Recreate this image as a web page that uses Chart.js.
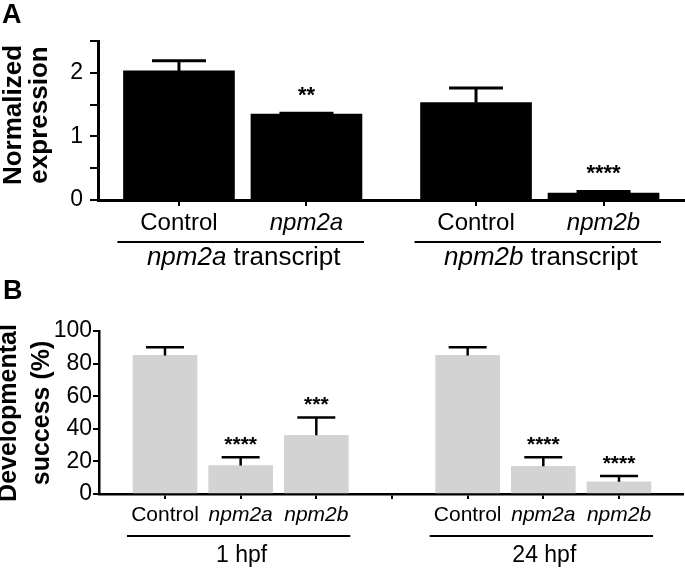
<!DOCTYPE html>
<html>
<head>
<meta charset="utf-8">
<script src="https://cdn.jsdelivr.net/npm/chart.js@4.4.1/dist/chart.umd.min.js"></script>
<style>
  body { margin: 0; background: #fff; }
  canvas { display: block; }
</style>
</head>
<body>
<canvas id="chartA" width="685" height="280"></canvas>
<canvas id="chartB" width="685" height="289"></canvas>
<script>
// A - normalized expression
const exprLabels = ['Control', 'npm2a', 'Control', 'npm2b'];
const exprMean = [2.03, 1.35, 1.53, 0.11];
const exprErr = [0.16, 0.015, 0.23, 0.025];
const exprStars = ['', '**', '', '****'];
const exprGroups = ['npm2a transcript', 'npm2b transcript'];
const exprYTicks = [0, 1, 2];

// B - developmental success (%)
const devLabels = ['Control', 'npm2a', 'npm2b', '', 'Control', 'npm2a', 'npm2b'];
const devMean = [85, 17.5, 36, null, 85, 17, 7.5];
const devErr = [5, 5, 11, null, 5, 5.5, 3.5];
const devStars = ['', '****', '***', '', '', '****', '****'];
const devGroups = ['1 hpf', '24 hpf'];
const devYTicks = [0, 20, 40, 60, 80, 100];

const FONT = 'Arial, "Liberation Sans", Helvetica, sans-serif';
Chart.defaults.font.family = FONT;
Chart.defaults.color = '#000';

const isGene = s => /^npm/.test(s || '');

// error bars, stars, group brackets, axis title, panel letter
function overlay(p, pos) {
    return {
        id: 'overlay',
        afterDatasetsDraw(chart) {
            const ctx = chart.ctx;
            const xs = chart.scales.x, ys = chart.scales.y;
            const meta = chart.getDatasetMeta(0);
            ctx.save();
            ctx.strokeStyle = '#000';
            ctx.fillStyle = '#000';
            ctx.lineWidth = p.errW;
            p.mean.forEach((m, i) => {
                if (m == null) return;
                const x = xs.getPixelForValue(pos[i]);
                const yb = ys.getPixelForValue(m);
                const yt = ys.getPixelForValue(m + p.err[i]);
                ctx.beginPath();
                ctx.moveTo(x, yb);
                ctx.lineTo(x, yt);
                ctx.moveTo(x - p.cap, yt);
                ctx.lineTo(x + p.cap, yt);
                ctx.stroke();
                if (p.stars[i]) {
                    ctx.font = 'bold ' + p.starFont + 'px ' + FONT;
                    ctx.textAlign = 'center';
                    ctx.textBaseline = 'alphabetic';
                    ctx.fillText(p.stars[i], x, yt - p.starGap);
                }
            });

            // group brackets under the tick labels
            ctx.lineWidth = 2;
            p.groups.forEach((g, k) => {
                const [a, b] = p.groupIdx[k];
                const ea = meta.data[a], eb = meta.data[b];
                const x1 = ea.x - ea.width / 2 - 6;
                const x2 = eb.x + eb.width / 2 + 2;
                ctx.beginPath();
                ctx.moveTo(x1, p.lineY);
                ctx.lineTo(x2, p.lineY);
                ctx.stroke();
                // first word italic when it is a gene name
                const sp = g.indexOf(' ');
                const head = isGene(g) ? g.slice(0, sp) : '';
                const tail = isGene(g) ? g.slice(sp) : g;
                const fi = 'italic ' + p.groupFont + 'px ' + FONT;
                const fn = p.groupFont + 'px ' + FONT;
                ctx.font = fi;
                const wh = ctx.measureText(head).width;
                ctx.font = fn;
                const wt = ctx.measureText(tail).width;
                const x = (x1 + x2) / 2 + 3 - (wh + wt) / 2;
                ctx.textAlign = 'left';
                ctx.textBaseline = 'alphabetic';
                ctx.font = fi;
                ctx.fillText(head, x, p.groupY);
                ctx.font = fn;
                ctx.fillText(tail, x + wh, p.groupY);
            });
            ctx.restore();
        },
        afterDraw(chart) {
            const ctx = chart.ctx;
            ctx.save();
            ctx.fillStyle = '#000';
            ctx.font = 'bold ' + p.titleFont + 'px ' + FONT;
            ctx.textAlign = 'center';
            ctx.textBaseline = 'middle';
            p.title.forEach((t, k) => {
                ctx.save();
                ctx.translate(p.titleX[k], p.titleY);
                ctx.rotate(-Math.PI / 2);
                ctx.fillText(t, 0, 0);
                ctx.restore();
            });
            ctx.font = 'bold 27px ' + FONT;
            ctx.textAlign = 'left';
            ctx.textBaseline = 'alphabetic';
            ctx.fillText(p.letter, p.letterX, p.letterY);
            ctx.restore();
        }
    };
}

function makeChart(id, p) {
    const pos = p.labels.map((_, i) => i + 1 + (i >= p.gapAfter ? p.gap : 0));
    return new Chart(document.getElementById(id), {
        type: 'bar',
        data: {
            datasets: [{
                data: p.mean.map((v, i) => ({ x: pos[i], y: v })),
                backgroundColor: p.color,
                borderWidth: 0,
                barThickness: p.barW
            }]
        },
        options: {
            responsive: false,
            animation: false,
            events: [],
            layout: { padding: { top: p.top, left: 0, right: p.right, bottom: 0 } },
            plugins: { legend: { display: false }, tooltip: { enabled: false } },
            scales: {
                x: {
                    type: 'linear',
                    min: p.xMin,
                    max: p.xMax,
                    offset: false,
                    z: 1,
                    afterBuildTicks: s => { s.ticks = pos.map(v => ({ value: v })); },
                    afterFit: s => { s.height = p.xAxisH; },
                    grid: { drawOnChartArea: false, drawTicks: true, tickLength: p.xTick, color: '#000', lineWidth: 2, offset: false },
                    border: { color: '#000', width: p.axisW },
                    ticks: {
                        autoSkip: false,
                        maxRotation: 0,
                        padding: p.xPad,
                        color: '#000',
                        font: c => ({ family: FONT, size: p.xFont, style: isGene(p.labels[c.index]) ? 'italic' : 'normal' }),
                        callback: (v, i) => p.labels[i]
                    }
                },
                y: {
                    min: 0,
                    max: p.yMax,
                    afterFit: s => { s.width = p.yAxisW; },
                    grid: { drawOnChartArea: false, drawTicks: true, tickLength: p.yTick, color: '#000', lineWidth: 2 },
                    border: { color: '#000', width: p.axisW },
                    ticks: {
                        stepSize: p.yStep,
                        autoSkip: false,
                        padding: p.yPad,
                        color: '#000',
                        font: { family: FONT, size: 23 },
                        callback: v => p.yTicks.includes(v) ? String(v) : ''
                    }
                }
            }
        },
        plugins: [overlay(p, pos)]
    });
}

makeChart('chartA', {
    labels: exprLabels, mean: exprMean, err: exprErr, stars: exprStars,
    groups: exprGroups, groupIdx: [[0, 1], [2, 3]], yTicks: exprYTicks,
    gapAfter: 2, gap: 0.33, xMin: 0.365, xMax: 4.969,
    yMax: 2.5, yStep: 0.5,
    color: '#000', barW: 111, cap: 27, errW: 3, axisW: 3,
    top: 41, right: 0, xAxisH: 80, yAxisW: 98,
    xTick: 6, xPad: 3, xFont: 24, yTick: 8, yPad: 7,
    starFont: 22, starGap: 11, lineY: 242, groupY: 265, groupFont: 26,
    title: ['Normalized', 'expression'], titleX: [14, 40], titleY: 115, titleFont: 26,
    letter: 'A', letterX: 2, letterY: 23
});

makeChart('chartB', {
    labels: devLabels, mean: devMean, err: devErr, stars: devStars,
    groups: devGroups, groupIdx: [[0, 2], [4, 6]], yTicks: devYTicks,
    gapAfter: 99, gap: 0, xMin: 0.128, xMax: 7.846,
    yMax: 100, yStep: 20,
    color: '#d3d3d3', barW: 64, cap: 19, errW: 2.5, axisW: 2.5,
    top: 51, right: 2, xAxisH: 75, yAxisW: 99,
    xTick: 5, xPad: 4, xFont: 21, yTick: 6, yPad: 1,
    starFont: 21, starGap: 6, lineY: 256, groupY: 282, groupFont: 23,
    title: ['Developmental', 'success (%)'], titleX: [9, 42], titleY: 133, titleFont: 25,
    letter: 'B', letterX: 3, letterY: 19
});
</script>
</body>
</html>
